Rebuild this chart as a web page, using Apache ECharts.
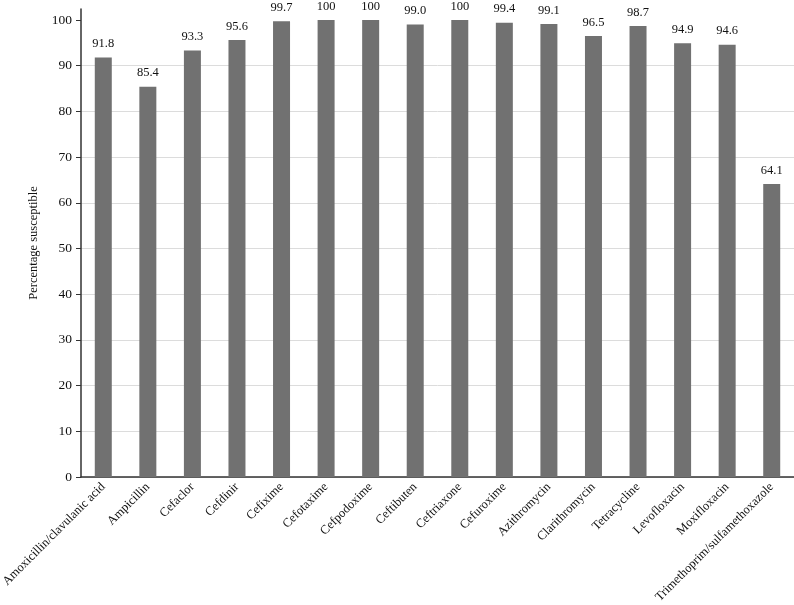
<!DOCTYPE html>
<html style="height: 100%">
  <head>
    <meta charset="utf-8" />
  </head>
  <body style="height: 100%; margin: 0; background: #fff">
    <div id="container" style="height: 100%"></div>

    <script type="text/javascript" src="https://cdn.jsdelivr.net/npm/echarts@6/dist/echarts.min.js"></script>

    <script type="text/javascript">
      var drugs = [
        "Amoxicillin/clavulanic acid", "Ampicillin", "Cefaclor", "Cefdinir",
        "Cefixime", "Cefotaxime", "Cefpodoxime", "Ceftibuten", "Ceftriaxone",
        "Cefuroxime", "Azithromycin", "Clarithromycin", "Tetracycline",
        "Levofloxacin", "Moxifloxacin", "Trimethoprim/sulfamethoxazole"
      ];
      var susceptible = [91.8, 85.4, 93.3, 95.6, 99.7, 100, 100, 99.0, 100, 99.4, 99.1, 96.5, 98.7, 94.9, 94.6, 64.1];
      var valueLabels = ["91.8", "85.4", "93.3", "95.6", "99.7", "100", "100", "99.0", "100", "99.4", "99.1", "96.5", "98.7", "94.9", "94.6", "64.1"];
      var yTicks = [0, 10, 20, 30, 40, 50, 60, 70, 80, 90, 100];

      var font = "Liberation Serif";
      var dom = document.getElementById("container");
      var myChart = echarts.init(dom);

      var option = {
        backgroundColor: "#fff",
        animation: false,
        textStyle: { fontFamily: font },
        grid: { left: 81, right: 0, top: 9, bottom: 128, containLabel: false, outerBoundsMode: "none" },
        xAxis: {
          type: "category",
          data: drugs,
          axisLine: { lineStyle: { color: "#333", width: 1.5 } },
          axisTick: { alignWithLabel: true, length: 5, lineStyle: { color: "#333" } },
          axisLabel: {
            interval: 0,
            rotate: 45,
            margin: 8,
            color: "#111",
            fontFamily: font,
            fontSize: 12.5
          }
        },
        yAxis: {
          type: "value",
          min: 0,
          max: 102.4,
          interval: 10,
          name: "Percentage susceptible",
          nameLocation: "middle",
          nameGap: 41,
          nameTextStyle: { color: "#111", fontFamily: font, fontSize: 12.5 },
          axisLine: { show: true, lineStyle: { color: "#333", width: 1.5 } },
          axisTick: { show: true, length: 5, lineStyle: { color: "#333" }, customValues: yTicks },
          axisLabel: {
            color: "#111",
            fontFamily: font,
            fontSize: 13.5,
            margin: 9,
            customValues: yTicks
          },
          splitLine: { show: true, showMaxLine: false, lineStyle: { color: "#dcdcdc" } }
        },
        series: [
          {
            type: "bar",
            data: susceptible,
            barWidth: 17,
            itemStyle: { color: "#717171" },
            label: {
              show: true,
              position: "top",
              distance: 7,
              color: "#111",
              fontFamily: font,
              fontSize: 12.5,
              formatter: function (p) { return valueLabels[p.dataIndex]; }
            }
          }
        ]
      };

      myChart.setOption(option);
    </script>
  </body>
</html>
